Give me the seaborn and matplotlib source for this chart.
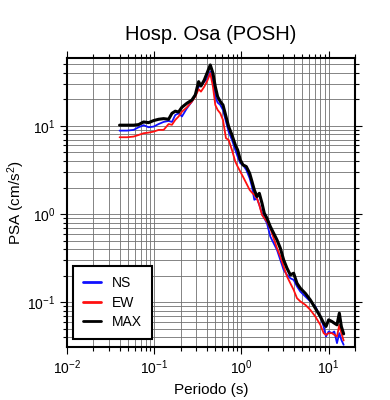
import numpy as np
import pandas as pd
import matplotlib
matplotlib.use('Agg')
import matplotlib.pyplot as plt
from matplotlib.ticker import LogLocator, NullFormatter
import seaborn as sns

# periods (s), shared by the three components
period = [0.0400, 0.0486, 0.0579, 0.0661, 0.0754, 0.0861, 0.0983, 0.1121, 0.128, 0.146,
          0.1595, 0.1741, 0.1902, 0.2077, 0.2370, 0.2704, 0.2954, 0.3227, 0.3431, 0.3747,
          0.4091, 0.4388, 0.4710, 0.5010, 0.5328, 0.5718, 0.6136, 0.6642, 0.7125, 0.7780,
          0.8497, 0.9037, 0.9696, 1.040, 1.136, 1.241, 1.320, 1.404, 1.505, 1.602,
          1.719, 1.828, 1.961, 2.142, 2.339, 2.555, 2.790, 3.047, 3.327, 3.634,
          3.968, 4.333, 4.732, 5.399, 6.162, 7.031, 8.024, 8.763, 9.320, 10.0,
          10.92, 11.61, 12.46, 13.26, 13.98, 14.86]

psa_ns = [8.85, 8.85, 9.01, 9.66, 10.2, 9.66, 9.83, 10.5, 11.1, 11.4,
          11.1, 13.3, 13.9, 12.8, 15.9, 18.9, 22.5, 27.9, 28.4, 31.8,
          34.7, 41.3, 31.8, 21.5, 18.4, 17.3, 15.2, 11.2, 8.62, 6.94,
          5.34, 4.49, 3.77, 3.61, 3.17, 2.55, 2.05, 1.45, 1.51, 1.27,
          1.02, 0.897, 0.787, 0.556, 0.467, 0.392, 0.302, 0.233, 0.204, 0.187,
          0.179, 0.151, 0.132, 0.116, 0.102, 0.0893, 0.0688, 0.0530, 0.0408, 0.0465,
          0.0445, 0.0465, 0.0343, 0.0445, 0.0374, 0.0328]

psa_ew = [7.44, 7.44, 7.57, 7.90, 8.26, 8.40, 8.62, 9.01, 9.01, 10.5,
          10.3, 11.7, 12.8, 14.5, 16.3, 18.9, 21.5, 26.1, 24.5, 27.9,
          33.2, 39.6, 27.9, 17.3, 15.2, 13.9, 11.7, 7.25, 6.94, 5.34,
          3.94, 3.46, 3.03, 2.66, 2.24, 1.88, 1.75, 1.65, 1.51, 1.27,
          0.978, 0.897, 0.822, 0.690, 0.532, 0.410, 0.330, 0.254, 0.196, 0.164,
          0.138, 0.111, 0.102, 0.0933, 0.0818, 0.0688, 0.0553, 0.0445, 0.0426, 0.0445,
          0.0445, 0.0426, 0.0408, 0.0553, 0.0445, 0.0367]

psa_max = [10.2, 10.2, 10.2, 10.35, 11.1, 10.9, 11.5, 11.9, 12.1, 11.9,
           13.9, 14.7, 14.4, 16.3, 18.1, 19.7, 22.5, 31.8, 28.4, 33.2,
           41.3, 49.2, 39.6, 27.9, 21.5, 18.9, 17.3, 12.8, 9.83, 7.90,
           6.09, 5.34, 4.12, 3.61, 3.46, 2.90, 2.34, 1.88, 1.58, 1.72,
           1.33, 1.02, 0.897, 0.721, 0.606, 0.509, 0.410, 0.302, 0.243, 0.204,
           0.213, 0.164, 0.144, 0.126, 0.106, 0.0855, 0.0688, 0.0578, 0.0530, 0.0630,
           0.0603, 0.0578, 0.0553, 0.0750, 0.0530, 0.0437]

components = ['NS', 'EW', 'MAX']
colors = {'NS': '#1010ff', 'EW': '#ff1010', 'MAX': 'black'}
widths = {'NS': 1.3, 'EW': 1.3, 'MAX': 2.2}

df = pd.DataFrame({
    'Periodo': period * 3,
    'PSA': psa_ns + psa_ew + psa_max,
    'comp': ['NS'] * len(period) + ['EW'] * len(period) + ['MAX'] * len(period),
})

sns.set_style('ticks')
plt.rcParams['font.family'] = ['Liberation Sans', 'DejaVu Sans']
plt.rcParams['mathtext.fontset'] = 'custom'
plt.rcParams['mathtext.rm'] = 'Liberation Sans'
plt.rcParams['mathtext.it'] = 'Liberation Sans:italic'
for key in ['text.color', 'axes.labelcolor', 'xtick.color', 'ytick.color']:
    plt.rcParams[key] = 'black'

fig = plt.figure(figsize=(3.9, 4.0), dpi=100)
ax = fig.add_axes([0.172, 0.1325, 0.738, 0.7225])

for c in components:
    sns.lineplot(data=df[df['comp'] == c], x='Periodo', y='PSA', ax=ax,
                 color=colors[c], linewidth=widths[c], label=c, zorder=3)

ax.set_xscale('log')
ax.set_yscale('log')
ax.set_xlim(0.01, 20)
ax.set_ylim(0.031, 59)

for axis in (ax.xaxis, ax.yaxis):
    axis.set_major_locator(LogLocator(base=10))
    axis.set_minor_locator(LogLocator(base=10, subs=np.arange(2, 10)))
    axis.set_minor_formatter(NullFormatter())

ax.grid(True, which='both', color='#707070', linewidth=0.6)
ax.tick_params(which='both', direction='out', top=True, right=True,
               labeltop=False, labelright=False, labelsize=10, width=0.8)
ax.tick_params(which='major', length=5)
ax.tick_params(which='minor', length=3)
for s in ax.spines.values():
    s.set_linewidth(1.5)
    s.set_color('black')

ax.set_xlabel('Periodo (s)', fontsize=11)
ax.set_ylabel('PSA (cm/s$^2$)', fontsize=11)
ax.yaxis.set_label_coords(-0.14, 0.5)
ax.set_title('Hosp. Osa (POSH)', fontsize=14.5, pad=13)

leg = ax.legend(loc='lower left', fancybox=False, framealpha=1, edgecolor='black',
                fontsize=10, handlelength=1.3, borderpad=0.7, labelspacing=0.4,
                handletextpad=0.8, borderaxespad=0, bbox_to_anchor=(0.021, 0.028))
leg.get_frame().set_linewidth(1.5)
for line in leg.get_lines():
    line.set_linewidth(2)

fig.savefig('out.png', dpi=100)
